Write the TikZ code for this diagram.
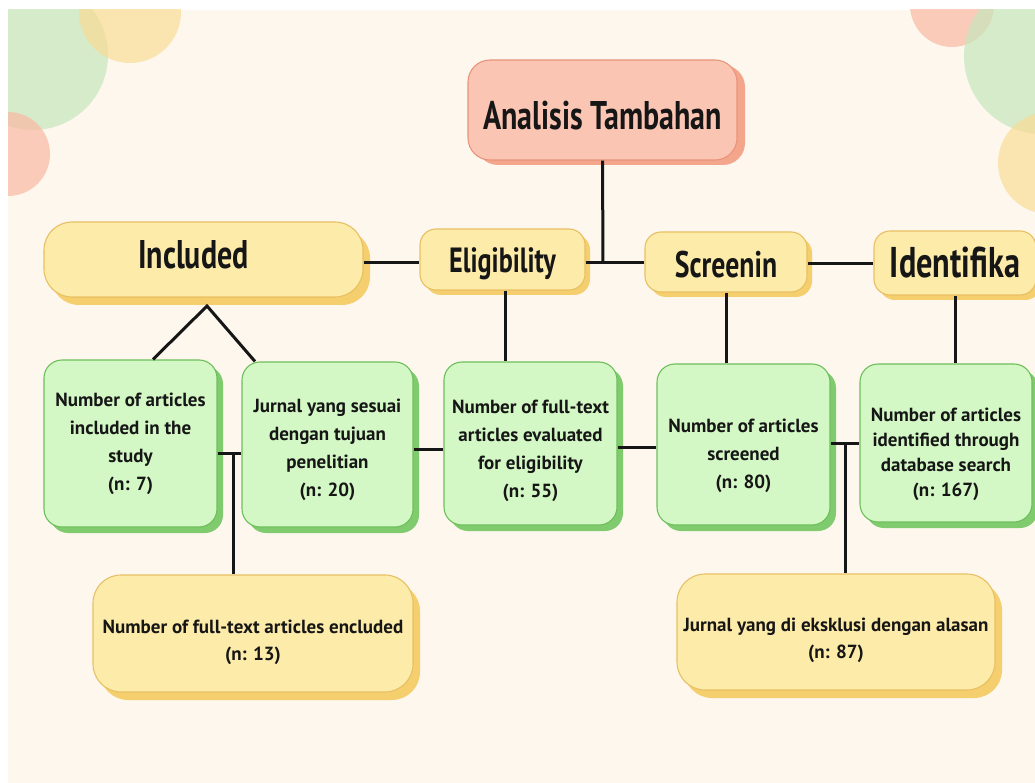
\documentclass[tikz,border=0pt]{standalone}
\usepackage{fontspec}
\newfontfamily\hfont{PT Sans}[FakeStretch=0.75]
\newfontfamily\bfont{PT Sans}
\usetikzlibrary{shadows}
\newcommand{\lowr}[1]{\rule{0pt}{#1pt}}
\definecolor{cream}{HTML}{FDF7EE}
\definecolor{ink}{HTML}{161616}
\definecolor{cgreen}{HTML}{C5E6BC}
\definecolor{cyellow}{HTML}{FADC95}
\definecolor{cred}{HTML}{FBB9A4}
\definecolor{gfill}{HTML}{D3F8C5}
\definecolor{gborder}{HTML}{6DBF5B}
\definecolor{gshadow}{HTML}{80CB6E}
\definecolor{yfill}{HTML}{FDEBA9}
\definecolor{yborder}{HTML}{E8C064}
\definecolor{yshadow}{HTML}{F5CE6E}
\definecolor{sfill}{HTML}{FBC5B3}
\definecolor{sborder}{HTML}{E8957B}
\definecolor{sshadow}{HTML}{F3A68B}
\tikzset{
  basebox/.style={line width=1.1pt, align=center, inner sep=0pt, text=ink},
  gbox/.style={basebox, draw=gborder, fill=gfill, rounded corners=18pt,
    general shadow={fill=gshadow, shadow xshift=6pt, shadow yshift=-6pt},
    font=\bfont\bfseries\fontsize{19}{28}\selectfont},
  ybox/.style={basebox, draw=yborder, fill=yfill, rounded corners=16pt,
    general shadow={fill=yshadow, shadow xshift=5pt, shadow yshift=-5pt},
    font=\hfont\bfseries\fontsize{35}{38}\selectfont},
  bigybox/.style={basebox, draw=yborder, fill=yfill, rounded corners=28pt,
    general shadow={fill=yshadow, shadow xshift=7pt, shadow yshift=-8pt},
    font=\bfont\bfseries\fontsize{19}{27}\selectfont},
  sbox/.style={basebox, draw=sborder, fill=sfill, rounded corners=22pt,
    general shadow={fill=sshadow, shadow xshift=8pt, shadow yshift=-5pt},
    font=\hfont\bfseries\fontsize{40}{42}\selectfont},
  conn/.style={draw=ink, line width=3pt},
  deco/.style={fill opacity=0.7}
}
\begin{document}
\begin{tikzpicture}[x=1pt,y=-1pt]
\useasboundingbox (0,0) rectangle (1035,783);
\fill[white] (0,0) rectangle (1035,783);
\fill[cream] (8,10) rectangle (1035,783);
\begin{scope}
\clip (8,10) rectangle (1035,783);
\fill[deco, cgreen] (33,55) circle[radius=75];
\fill[deco, cyellow] (130,12) circle[radius=51];
\fill[deco, cred] (8,154) circle[radius=42];
\fill[deco, cred] (952,5) circle[radius=42];
\fill[deco, cgreen] (1042,56) circle[radius=78];
\fill[deco, cyellow] (1049,163) circle[radius=51];

\node[sbox, minimum width=269pt, minimum height=100pt] (top) at (602.5,110) {\lowr{40}Analisis Tambahan};
\node[bigybox, minimum width=319pt, minimum height=75pt, font=\hfont\bfseries\fontsize{40}{42}\selectfont] (incl) at (203.5,259.5) {Included\rule[-10pt]{0pt}{10pt}\hspace*{20pt}};
\node[ybox, minimum width=165pt, minimum height=61pt] (elig) at (502.5,259.5) {\lowr{34}Eligibility};
\node[ybox, minimum width=162pt, minimum height=60pt, font=\hfont\bfseries\fontsize{37}{40}\selectfont] (scr) at (726,262) {\lowr{32}Screenin};
\node[ybox, minimum width=162pt, minimum height=64pt, font=\hfont\bfseries\fontsize{43}{45}\selectfont] (iden) at (955,263) {Identifika};

\node[gbox, minimum width=173pt, minimum height=167pt] (g1) at (130.5,443.5) {Number of articles\\included in the\\study\\(n: 7)};
\node[gbox, minimum width=171pt, minimum height=165pt] (g2) at (327.5,444.5) {\lowr{24}Jurnal yang sesuai\\dengan tujuan\\penelitian\\(n: 20)};
\node[gbox, minimum width=173pt, minimum height=163pt] (g3) at (530.5,443.5) {\lowr{28}Number of full-text\\articles evaluated\\for eligibility\\(n: 55)};
\node[gbox, minimum width=173pt, minimum height=161pt] (g4) at (743.5,444.5) {\lowr{36}Number of articles\\screened\\(n: 80)};
\node[gbox, minimum width=172pt, minimum height=158pt, font=\bfont\bfseries\fontsize{19}{25}\selectfont] (g5) at (946,443) {\lowr{36}Number of articles\\identified through\\database search\\(n: 167)};

\node[bigybox, minimum width=320pt, minimum height=117pt] (y1) at (253,633.5) {\lowr{32}Number of full-text articles encluded\\(n: 13)};
\node[bigybox, minimum width=318pt, minimum height=116pt] (y2) at (836,632) {\lowr{30}Jurnal yang di eksklusi dengan alasan\\(n: 87)};

\coordinate (j1) at (603,263);
\coordinate (apex) at (207,306);
\coordinate (j2) at (233,453);
\coordinate (j3) at (845,443);

\draw[conn] (top.south) -- (j1);
\draw[conn] (elig.east |- j1) -- (scr.west |- j1);
\draw[conn] (incl.east |- j1) -- (elig.west |- j1);
\draw[conn] (scr.east |- 0,264) -- (iden.west |- 0,264);
\draw[conn] (505,0 |- elig.south) -- (505,0 |- g3.north);
\draw[conn] (scr.south) -- (scr.south |- g4.north);
\draw[conn] (iden.south) -- (iden.south |- g5.north);
\draw[conn] (153,0 |- g1.north) -- (apex) -- (255,0 |- g2.north);
\draw[conn] (g1.east |- j2) -- (g2.west |- j2);
\draw[conn] (j2) -- (j2 |- y1.north);
\draw[conn] (g2.east |- 0,449) -- (g3.west |- 0,449);
\draw[conn] (g3.east |- 0,447) -- (g4.west |- 0,447);
\draw[conn] (g4.east |- j3) -- (g5.west |- j3);
\draw[conn] (j3) -- (j3 |- y2.north);
\end{scope}
\end{tikzpicture}
\end{document}
